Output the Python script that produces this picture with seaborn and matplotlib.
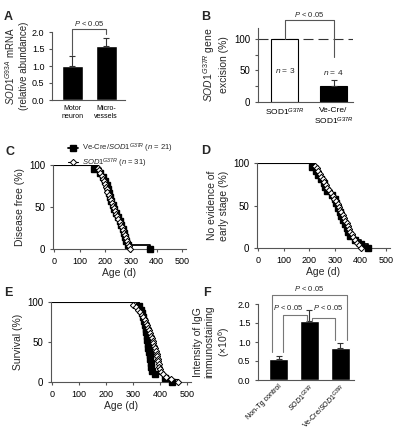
"""
Six-panel figure: SOD1 expression, excision and Kaplan-Meier curves
"""

import numpy as np
import matplotlib
matplotlib.use("Agg")
import matplotlib.pyplot as plt
from matplotlib.lines import Line2D
import seaborn as sns

# ── Data ─────────────────────────────────────────────────────────────────────
# A: SOD1 G93A mRNA
a_cats = ["Motor\nneuron", "Micro-\nvessels"]
a_vals = [1.0, 1.6]
a_err = [0.3, 0.22]

# B: gene excision (%)
b_cats = ["SOD1$^{G37R}$", "Ve-Cre/\nSOD1$^{G37R}$"]
b_vals = [100, 25]
b_err = [0, 9]

# C: disease onset ages (d)
c_vecre = [155, 180, 190, 198, 205, 210, 214, 218, 222, 228, 235, 242, 248,
           255, 262, 268, 272, 276, 280, 288, 375]
c_sod1 = [170, 175, 180, 185, 190, 195, 198, 202, 205, 208, 212, 216, 220,
          224, 228, 232, 236, 240, 245, 250, 255, 260, 264, 268, 272, 276,
          280, 284, 288, 292, 297]

# D: early stage ages (d)
d_vecre = [210, 225, 235, 245, 255, 262, 268, 290, 300, 305, 312, 318, 325,
           330, 338, 345, 352, 360, 380, 400, 430]
d_sod1 = [222, 228, 235, 240, 246, 252, 258, 264, 270, 278, 285, 292, 298,
          305, 310, 315, 320, 325, 330, 335, 340, 345, 350, 355, 360, 365,
          370, 378, 385, 392, 400]

# E: survival ages (d)
e_vecre = [320, 328, 333, 337, 340, 343, 346, 349, 351, 353, 355, 357, 359,
           361, 363, 365, 367, 369, 380, 420, 443]
e_sod1 = [300, 310, 318, 325, 332, 338, 343, 348, 352, 356, 360, 363, 366,
          369, 372, 375, 378, 381, 384, 387, 389, 391, 393, 395, 397, 400,
          405, 412, 422, 440, 465]

# F: IgG immunostaining (x10^6)
f_cats = ["Non-Tg control", "$\\it{SOD1}^{G37R}$", "Ve-Cre/$\\it{SOD1}^{G37R}$"]
f_vals = [0.55, 1.55, 0.84]
f_err = [0.08, 0.29, 0.13]

# ── Style ────────────────────────────────────────────────────────────────────
sns.set_style("ticks")
plt.rcParams.update({
    "font.family": ["Liberation Sans", "DejaVu Sans"],
    "font.size": 6,
    "mathtext.fontset": "custom",
    "mathtext.rm": "Liberation Sans",
    "mathtext.it": "Liberation Sans:italic",
    "mathtext.bf": "Liberation Sans:bold",
    "axes.edgecolor": "#555555",
    "axes.linewidth": 0.8,
    "axes.labelsize": 7.5,
    "xtick.color": "#555555",
    "ytick.color": "#555555",
    "xtick.labelcolor": "black",
    "ytick.labelcolor": "black",
    "xtick.major.size": 2,
    "ytick.major.size": 2,
    "ytick.minor.size": 2,
    "xtick.major.width": 0.8,
    "ytick.major.width": 0.8,
    "ytick.minor.width": 0.8,
    "xtick.labelsize": 6,
    "ytick.labelsize": 6,
})

W, H = 400, 433
fig = plt.figure(figsize=(W / 100, H / 100), dpi=100)


def px_axes(left, top, right, bottom):
    return fig.add_axes([left / W, 1 - bottom / H, (right - left) / W, (bottom - top) / H])


def clean(ax):
    sns.despine(ax=ax)


def bracket(ax, x1, x2, y, y1, y2, text=None, ty=None, color="#555555", tx=None):
    ax.plot([x1, x1, x2, x2], [y1, y, y, y2], color=color, lw=0.8, clip_on=False)
    if text:
        tx = (x1 + x2) / 2 if tx is None else tx
        ax.text(tx, ty, text, ha="center", va="bottom", fontsize=5.5)


# ── A ────────────────────────────────────────────────────────────────────────
ax = px_axes(52, 32, 125, 100)
sns.barplot(x=a_cats, y=a_vals, color="black", width=0.62, ax=ax, saturation=1)
ax.errorbar(range(2), a_vals, yerr=[[0, 0], a_err], fmt="none", ecolor="#333333",
            elinewidth=0.8, capsize=2.5, capthick=0.8)
ax.set_xlim(-0.6, 1.55)
ax.set_ylim(0, 2.0)
ax.set_yticks([0, 0.5, 1.0, 1.5, 2.0])
ax.set_yticklabels(["0.0", "0.5", "1.0", "1.5", "2.0"])
ax.tick_params(axis="y", labelsize=6.5)
ax.tick_params(axis="x", length=0, labelsize=5)
ax.set_ylabel("$\\it{SOD1}^{G93A}$ mRNA\n(relative abundance)", labelpad=2, fontsize=7)
bracket(ax, 0, 1, 2.09, 1.33, 1.95, "$\\it{P}$ < 0.05", 2.13)
clean(ax)

# ── B ────────────────────────────────────────────────────────────────────────
ax = px_axes(258, 28, 353, 102)
sns.barplot(x=b_cats, y=b_vals, palette=["white", "black"], hue=b_cats, legend=False,
            width=0.55, edgecolor="black", linewidth=0.8, ax=ax, saturation=1)
ax.errorbar([1], [b_vals[1]], yerr=[[0], [b_err[1]]], fmt="none", ecolor="#333333",
            elinewidth=0.8, capsize=2.5, capthick=0.8)
ax.set_xlim(-0.55, 1.4)
ax.set_ylim(0, 117)
ax.set_yticks([0, 50, 100])
ax.set_yticks([25, 75], minor=True)
ax.tick_params(axis="y", labelsize=7)
ax.tick_params(axis="x", length=0, labelsize=6)
ax.axhline(100, color="#333333", lw=0.8, ls=(0, (9, 4.5)), zorder=0)
ax.text(0, 43, "$\\it{n}$ = 3", ha="center", va="bottom", fontsize=6)
ax.text(1, 40, "$\\it{n}$ = 4", ha="center", va="bottom", fontsize=6)
bracket(ax, 0, 1, 129, 100, 71, "$\\it{P}$ < 0.05", 132)
ax.set_ylabel("$\\it{SOD1}^{G37R}$ gene\nexcision (%)", labelpad=4)
clean(ax)


# ── Kaplan-Meier panels ──────────────────────────────────────────────────────
def km_steps(ages):
    n = len(ages)
    t = np.sort(np.asarray(ages, float))
    surv = 100.0 * (n - np.arange(1, n + 1)) / n
    return np.concatenate([[0], t]), np.concatenate([[100], surv])


def km_panel(ax, vecre, sod1, ylabel):
    xs, ys = km_steps(vecre)
    sns.lineplot(x=xs, y=ys, drawstyle="steps-post", estimator=None, sort=False,
                 color="black", lw=1.3, ax=ax)
    ax.plot(xs[1:], ys[1:], ls="none", marker="s", ms=4.2, mfc="black",
            mec="black", clip_on=False, zorder=3)
    xs, ys = km_steps(sod1)
    sns.lineplot(x=xs, y=ys, drawstyle="steps-post", estimator=None, sort=False,
                 color="black", lw=0.8, ax=ax)
    ax.plot(xs[1:], ys[1:], ls="none", marker="D", ms=3.2, mfc="white",
            mec="black", mew=0.7, clip_on=False, zorder=4)
    ax.set_xlim(-5, 515)
    ax.set_ylim(0, 100)
    ax.set_xticks([0, 100, 200, 300, 400, 500])
    ax.set_yticks([0, 50, 100])
    ax.tick_params(axis="y", labelsize=7)
    ax.tick_params(axis="x", labelsize=6.5)
    ax.set_xlabel("Age (d)", labelpad=2)
    ax.set_ylabel(ylabel, labelpad=3)
    clean(ax)


ax = px_axes(53, 165, 186, 249)
km_panel(ax, c_vecre, c_sod1, "Disease free (%)")

ax = px_axes(257, 163, 390, 248)
km_panel(ax, d_vecre, d_sod1, "No evidence of\nearly stage (%)")

ax = px_axes(51, 302, 191, 382)
km_panel(ax, e_vecre, e_sod1, "Survival (%)")

handles = [
    Line2D([], [], color="black", lw=1.3, marker="s", ms=4.2),
    Line2D([], [], color="black", lw=0.8, marker="D", ms=3.2, mfc="white", mew=0.7),
]
labels = ["Ve-Cre/$\\it{SOD1}^{G37R}$ ($\\it{n}$ = 21)",
          "$\\it{SOD1}^{G37R}$ ($\\it{n}$ = 31)"]
fig.legend(handles, labels, loc="upper left", bbox_to_anchor=(64 / W, 1 - 138 / H),
           frameon=False, fontsize=5.5, handlelength=1.3, handletextpad=0.6,
           labelspacing=0.15, borderpad=0)

# ── F ────────────────────────────────────────────────────────────────────────
ax = px_axes(258, 304, 354, 380)
sns.barplot(x=f_cats, y=f_vals, color="black", width=0.62, ax=ax, saturation=1)
ax.errorbar(range(3), f_vals, yerr=[[0, 0, 0], f_err], fmt="none", ecolor="#333333",
            elinewidth=0.8, capsize=2.5, capthick=0.8)
ax.set_xlim(-0.67, 2.45)
ax.set_ylim(0, 2.0)
ax.set_yticks([0, 0.5, 1.0, 1.5, 2.0])
ax.set_yticklabels(["0.0", "0.5", "1.0", "1.5", "2.0"])
ax.tick_params(axis="y", labelsize=6.5)
ax.tick_params(axis="x", length=0, labelsize=5, pad=2)
plt.setp(ax.get_xticklabels(), rotation=45, ha="right", rotation_mode="anchor")
ax.set_ylabel("Intensity of IgG\nimmunostaining\n(×10$^{6}$)", labelpad=4)
bracket(ax, -0.23, 2.21, 2.24, 0.75, 1.05, "$\\it{P}$ < 0.05", 2.29, color="#777777")
bracket(ax, 0.15, 0.93, 1.71, 0.75, 1.55, "$\\it{P}$ < 0.05", 1.8, color="#777777",
        tx=0.3)
bracket(ax, 1.10, 1.83, 1.62, 1.55, 1.05, "$\\it{P}$ < 0.05", 1.8, color="#777777",
        tx=1.62)
clean(ax)

# ── Panel letters ────────────────────────────────────────────────────────────
for letter, x, y in [("A", 4, 17), ("B", 201, 17), ("C", 5, 152),
                     ("D", 201, 151), ("E", 4, 293), ("F", 203, 293)]:
    fig.text(x / W, 1 - y / H, letter, fontsize=9, fontweight="bold",
             ha="left", va="center")

fig.savefig("out.png", dpi=100)
